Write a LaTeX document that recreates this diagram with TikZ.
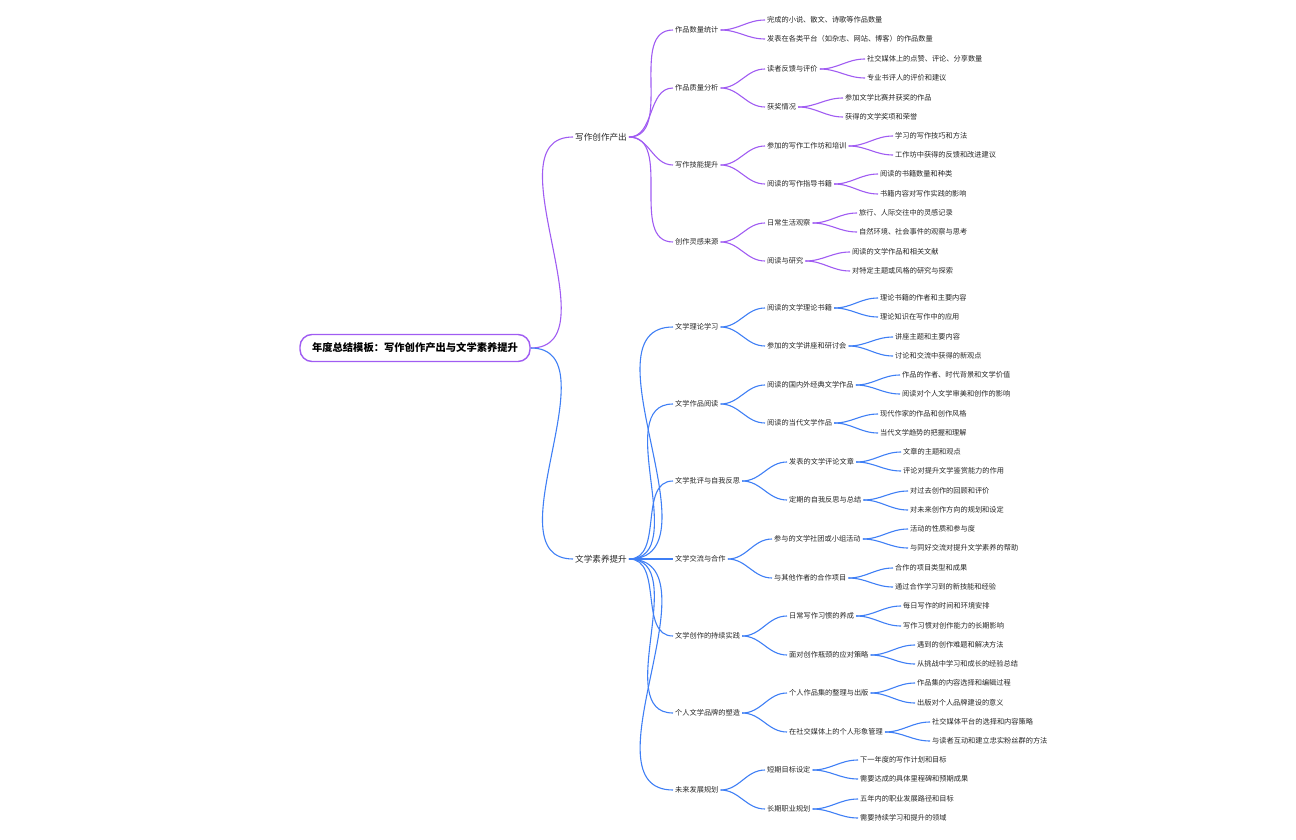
\documentclass[tikz,border=0pt]{standalone}
\usepackage{fontspec}
\setmainfont{Noto Sans CJK SC}
\definecolor{pu}{HTML}{A05CF2}
\definecolor{bl}{HTML}{3F7FF5}
\tikzset{
 t/.style={anchor=west,inner sep=2pt,font=\fontsize{7.2}{8}\selectfont,text=black!85},
 l1/.style={t,font=\fontsize{8.6}{9}\selectfont},
 root/.style={draw=pu,line width=1.4pt,rounded corners=12pt,fill=white,inner xsep=12pt,minimum height=27pt,font=\fontsize{10.3}{11}\selectfont\bfseries},
 cp/.style={draw=pu,line width=1.1pt,out=0,in=180},
 cb/.style={draw=bl,line width=1.1pt,out=0,in=180},
}
\newcommand\nd[4]{\node[t] (#1) at (#2-2,#3) {#4};}
\begin{document}
\begin{tikzpicture}[x=1pt,y=-1pt]
\useasboundingbox (0,0) rectangle (1296,840);
\node[root] (r) at (415,348) {年度总结模板：写作创作产出与文学素养提升};
\node[l1] (A) at (573,137) {写作创作产出};
\node[l1] (B) at (573,559) {文学素养提升};
\draw[cp] (r.east) to (A.west);
\draw[cb] (r.east) to (B.west);
% level 2
\nd{a1}{675}{30}{作品数量统计}
\nd{a2}{675}{88}{作品质量分析}
\nd{a3}{675}{165}{写作技能提升}
\nd{a4}{675}{242}{创作灵感来源}
\nd{b1}{675}{327}{文学理论学习}
\nd{b2}{675}{404}{文学作品阅读}
\nd{b3}{675}{481}{文学批评与自我反思}
\nd{b4}{675}{559}{文学交流与合作}
\nd{b5}{675}{636}{文学创作的持续实践}
\nd{b6}{675}{713}{个人文学品牌的塑造}
\nd{b7}{675}{790}{未来发展规划}
\foreach \c in {a1,a2,a3,a4} \draw[cp] (A.east) to (\c.west);
\foreach \c in {b1,b2,b3,b4,b5,b6,b7} \draw[cb] (B.east) to (\c.west);
% level 3/4 purple
\nd{a11}{767}{20}{完成的小说、散文、诗歌等作品数量}
\nd{a12}{767}{39}{发表在各类平台（如杂志、网站、博客）的作品数量}
\nd{a21}{767}{69}{读者反馈与评价}
\nd{a22}{767}{107}{获奖情况}
\nd{a211}{867}{59}{社交媒体上的点赞、评论、分享数量}
\nd{a212}{867}{78}{专业书评人的评价和建议}
\nd{a221}{845}{98}{参加文学比赛并获奖的作品}
\nd{a222}{845}{117}{获得的文学奖项和荣誉}
\nd{a31}{767}{146}{参加的写作工作坊和培训}
\nd{a32}{767}{184}{阅读的写作指导书籍}
\nd{a311}{895}{136}{学习的写作技巧和方法}
\nd{a312}{895}{155}{工作坊中获得的反馈和改进建议}
\nd{a321}{880}{174}{阅读的书籍数量和种类}
\nd{a322}{880}{194}{书籍内容对写作实践的影响}
\nd{a41}{767}{223}{日常生活观察}
\nd{a42}{767}{261}{阅读与研究}
\nd{a411}{859}{213}{旅行、人际交往中的灵感记录}
\nd{a412}{859}{232}{自然环境、社会事件的观察与思考}
\nd{a421}{852}{252}{阅读的文学作品和相关文献}
\nd{a422}{852}{271}{对特定主题或风格的研究与探索}
\foreach \p/\c in {a1/a11,a1/a12,a2/a21,a2/a22,a21/a211,a21/a212,a22/a221,a22/a222,a3/a31,a3/a32,a31/a311,a31/a312,a32/a321,a32/a322,a4/a41,a4/a42,a41/a411,a41/a412,a42/a421,a42/a422}
  \draw[cp] (\p.east) to (\c.west);
% blue
\nd{b11}{767}{308}{阅读的文学理论书籍}
\nd{b12}{767}{346}{参加的文学讲座和研讨会}
\nd{b111}{880}{298}{理论书籍的作者和主要内容}
\nd{b112}{880}{317}{理论知识在写作中的应用}
\nd{b121}{895}{337}{讲座主题和主要内容}
\nd{b122}{895}{356}{讨论和交流中获得的新观点}
\nd{b21}{767}{385}{阅读的国内外经典文学作品}
\nd{b22}{767}{423}{阅读的当代文学作品}
\nd{b211}{902}{375}{作品的作者、时代背景和文学价值}
\nd{b212}{902}{394}{阅读对个人文学审美和创作的影响}
\nd{b221}{880}{414}{现代作家的作品和创作风格}
\nd{b222}{880}{433}{当代文学趋势的把握和理解}
\nd{b31}{789}{462}{发表的文学评论文章}
\nd{b32}{789}{500}{定期的自我反思与总结}
\nd{b311}{903}{452}{文章的主题和观点}
\nd{b312}{903}{471}{评论对提升文学鉴赏能力的作用}
\nd{b321}{910}{491}{对过去创作的回顾和评价}
\nd{b322}{910}{510}{对未来创作方向的规划和设定}
\nd{b41}{774}{539}{参与的文学社团或小组活动}
\nd{b42}{774}{578}{与其他作者的合作项目}
\nd{b411}{910}{529}{活动的性质和参与度}
\nd{b412}{910}{548}{与同好交流对提升文学素养的帮助}
\nd{b421}{895}{568}{合作的项目类型和成果}
\nd{b422}{895}{587}{通过合作学习到的新技能和经验}
\nd{b51}{789}{616}{日常写作习惯的养成}
\nd{b52}{789}{655}{面对创作瓶颈的应对策略}
\nd{b511}{903}{606}{每日写作的时间和环境安排}
\nd{b512}{903}{626}{写作习惯对创作能力的长期影响}
\nd{b521}{917}{645}{遇到的创作难题和解决方法}
\nd{b522}{917}{664}{从挑战中学习和成长的经验总结}
\nd{b61}{789}{693}{个人作品集的整理与出版}
\nd{b62}{789}{732}{在社交媒体上的个人形象管理}
\nd{b611}{917}{683}{作品集的内容选择和编辑过程}
\nd{b612}{917}{703}{出版对个人品牌建设的意义}
\nd{b621}{932}{722}{社交媒体平台的选择和内容策略}
\nd{b622}{932}{741}{与读者互动和建立忠实粉丝群的方法}
\nd{b71}{767}{770}{短期目标设定}
\nd{b72}{767}{809}{长期职业规划}
\nd{b711}{860}{760}{下一年度的写作计划和目标}
\nd{b712}{860}{779}{需要达成的具体里程碑和预期成果}
\nd{b721}{860}{799}{五年内的职业发展路径和目标}
\nd{b722}{860}{818}{需要持续学习和提升的领域}
\foreach \p/\c in {b1/b11,b1/b12,b11/b111,b11/b112,b12/b121,b12/b122,b2/b21,b2/b22,b21/b211,b21/b212,b22/b221,b22/b222,b3/b31,b3/b32,b31/b311,b31/b312,b32/b321,b32/b322,b4/b41,b4/b42,b41/b411,b41/b412,b42/b421,b42/b422,b5/b51,b5/b52,b51/b511,b51/b512,b52/b521,b52/b522,b6/b61,b6/b62,b61/b611,b61/b612,b62/b621,b62/b622,b7/b71,b7/b72,b71/b711,b71/b712,b72/b721,b72/b722}
  \draw[cb] (\p.east) to (\c.west);
\end{tikzpicture}
\end{document}
